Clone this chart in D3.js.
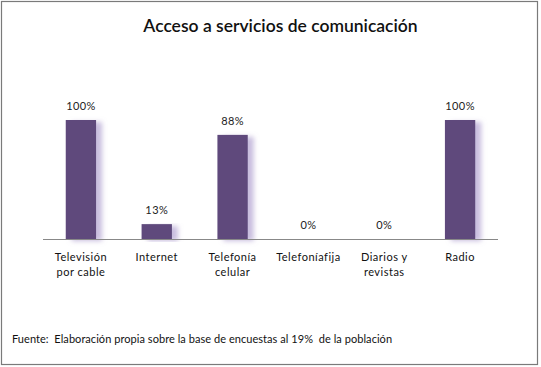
<!DOCTYPE html>
<html><head><meta charset="utf-8">
<script src="https://cdn.jsdelivr.net/npm/d3@7"></script>
<style>body{margin:0;background:#fff;}svg{display:block;font-family:"Lato","Open Sans",sans-serif;}</style>
</head><body>
<svg id="c" width="541" height="367"></svg>
<script>
const categories = [["Televisión","por cable"],["Internet"],["Telefonía","celular"],["Telefoníafija"],["Diarios y","revistas"],["Radio"]];
const values = [100, 12.5, 87.5, 0, 0, 100];
const title = "Acceso a servicios de comunicación";
const footer = "Fuente:  Elaboración propia sobre la base de encuestas al 19%  de la población";

const svg = d3.select("#c");
svg.append("rect").attr("x",1.5).attr("y",1.5).attr("width",536).attr("height",363)
  .attr("fill","#fff").attr("stroke","#7a7a7a").attr("stroke-width",1.2);

const defs = svg.append("defs");
const f = defs.append("filter").attr("id","sh").attr("x","-20%").attr("y","-20%").attr("width","160%").attr("height","140%");
f.append("feGaussianBlur").attr("in","SourceAlpha").attr("stdDeviation",2.5).attr("result","b");
f.append("feOffset").attr("in","b").attr("dx",6).attr("dy",2).attr("result","o");
f.append("feFlood").attr("flood-color","#9c88c4").attr("flood-opacity",0.55);
f.append("feComposite").attr("in2","o").attr("operator","in").attr("result","s");
const m = f.append("feMerge"); m.append("feMergeNode").attr("in","s"); m.append("feMergeNode").attr("in","SourceGraphic");

const x = d3.scaleBand().domain(d3.range(categories.length)).range([43,498]).paddingInner(0.6).paddingOuter(0.3);
const y = d3.scaleLinear().domain([0,100]).range([239,120]);

svg.append("text").attr("x",280.5).attr("y",32).attr("text-anchor","middle")
  .attr("font-size",17.5).attr("font-weight",600).attr("fill","#111").text(title);

svg.selectAll(".bar").data(values).join("rect").attr("class","bar")
  .attr("x",(d,i)=>x(i)).attr("width",x.bandwidth())
  .attr("y",d=>y(d)).attr("height",d=>y(0)-y(d))
  .attr("fill","#5e4a7c").attr("filter","url(#sh)");

svg.append("line").attr("x1",43).attr("x2",498).attr("y1",239.5).attr("y2",239.5).attr("stroke","#888").attr("stroke-width",1);

svg.selectAll(".lbl").data(values).join("text").attr("class","lbl")
  .attr("x",(d,i)=>x(i)+x.bandwidth()/2).attr("y",d=>y(d)-10)
  .attr("text-anchor","middle").attr("font-size",11).attr("letter-spacing",0.4).attr("fill","#222")
  .text(d=>Math.round(d)+"%");

const cat = svg.selectAll(".cat").data(categories).join("text").attr("class","cat")
  .attr("text-anchor","middle").attr("font-size",11).attr("letter-spacing",0.5).attr("fill","#111");
cat.each(function(d,i){
  const t=d3.select(this);
  d.forEach((s,j)=>t.append("tspan").attr("x",x(i)+x.bandwidth()/2).attr("y",261+j*15).text(s));
});

svg.append("text").attr("x",12).attr("y",343).attr("font-size",11).attr("letter-spacing",0.05)
  .style("white-space","pre").attr("fill","#111").text(footer);
</script>
</body></html>
